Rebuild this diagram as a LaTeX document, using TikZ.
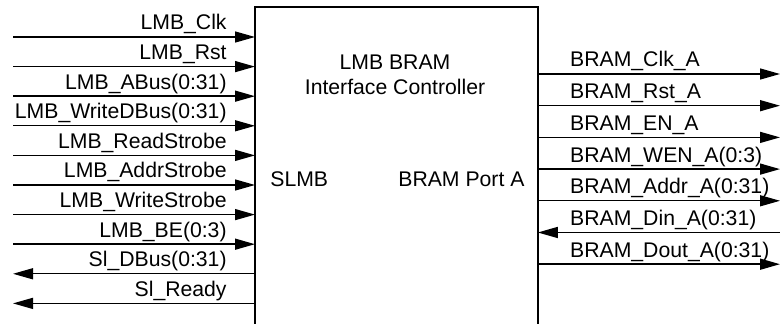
\documentclass[tikz,border=0pt]{standalone}
\usepackage{fontspec}
\setmainfont{Liberation Sans}
\usetikzlibrary{arrows.meta,calc,positioning}
\tikzset{
    lmb diagram/.style = {x=0.5pt, y=-0.5pt,
                          >={Triangle[length=10pt, width=5.5pt]}},
    line/.style        = {line width=0.7pt},
    frame/.style       = {line width=1.3pt},
    sig/.style         = {font=\fontsize{10.6}{12.5}\selectfont, inner sep=0pt},
    title/.style       = {sig, align=center}
}
% left side: #1 name, #2 row, #3 direction, #4 label
\newcommand{\lmbsig}[4]{%
    \coordinate (#1-src) at (13,#2);
    \coordinate (#1-pin) at (ctrl.west |- #1-src);
    \draw[#3,line] (#1-src) -- (#1-pin);
    \node[sig, anchor=base east] (#1-lbl) at ($(#1-pin)+(-28,-7)$) {#4};
}
% right side: #1 name, #2 row, #3 direction, #4 label
\newcommand{\bramsig}[4]{%
    \coordinate (#1-dst) at (780,#2);
    \coordinate (#1-pin) at (ctrl.east |- #1-dst);
    \draw[#3,line] (#1-pin) -- (#1-dst);
    \node[sig, anchor=base west] (#1-lbl) at ($(#1-pin)+(32,-7)$) {#4};
}
\def\lmbrow{29.6}
\def\bramrow{31.7}

\begin{document}
\begin{tikzpicture}[lmb diagram]
\useasboundingbox (0,0) rectangle (780,324);

% Controller block, open at the bottom.
\node[minimum width=141pt, minimum height=158.5pt, inner sep=0pt,
      anchor=north west] (ctrl) at (255,7) {};
\draw[frame] (ctrl.south west) |- (ctrl.north) -| (ctrl.south east);
\node[title, anchor=north] (name) at (395,55) {LMB BRAM\\Interface Controller};
\node[sig, anchor=base west] (slmb) at (270,187) {SLMB};
\node[sig, anchor=base west] (porta) at (398,187) {BRAM Port A};

% SLMB bus signals.
\lmbsig{clk}{37}{->}{LMB\_Clk}
\lmbsig{rst}{37+\lmbrow}{->}{LMB\_Rst}
\lmbsig{abus}{37+2*\lmbrow}{->}{LMB\_ABus(0:31)}
\lmbsig{wdbus}{37+3*\lmbrow}{->}{LMB\_WriteDBus(0:31)}
\lmbsig{rdstb}{37+4*\lmbrow}{->}{LMB\_ReadStrobe}
\lmbsig{addrstb}{37+5*\lmbrow}{->}{LMB\_AddrStrobe}
\lmbsig{wrstb}{37+6*\lmbrow}{->}{LMB\_WriteStrobe}
\lmbsig{be}{37+7*\lmbrow}{->}{LMB\_BE(0:3)}
\lmbsig{dbus}{37+8*\lmbrow}{<-}{Sl\_DBus(0:31)}
\lmbsig{ready}{37+9*\lmbrow}{<-}{Sl\_Ready}

% BRAM port A signals.
\bramsig{bclk}{74}{->}{BRAM\_Clk\_A}
\bramsig{brst}{74+\bramrow}{->}{BRAM\_Rst\_A}
\bramsig{ben}{74+2*\bramrow}{->}{BRAM\_EN\_A}
\bramsig{bwen}{74+3*\bramrow}{->}{BRAM\_WEN\_A(0:3)}
\bramsig{baddr}{74+4*\bramrow}{->}{BRAM\_Addr\_A(0:31)}
\bramsig{bdin}{74+5*\bramrow}{<-}{BRAM\_Din\_A(0:31)}
\bramsig{bdout}{74+6*\bramrow}{->}{BRAM\_Dout\_A(0:31)}

\end{tikzpicture}
\end{document}
